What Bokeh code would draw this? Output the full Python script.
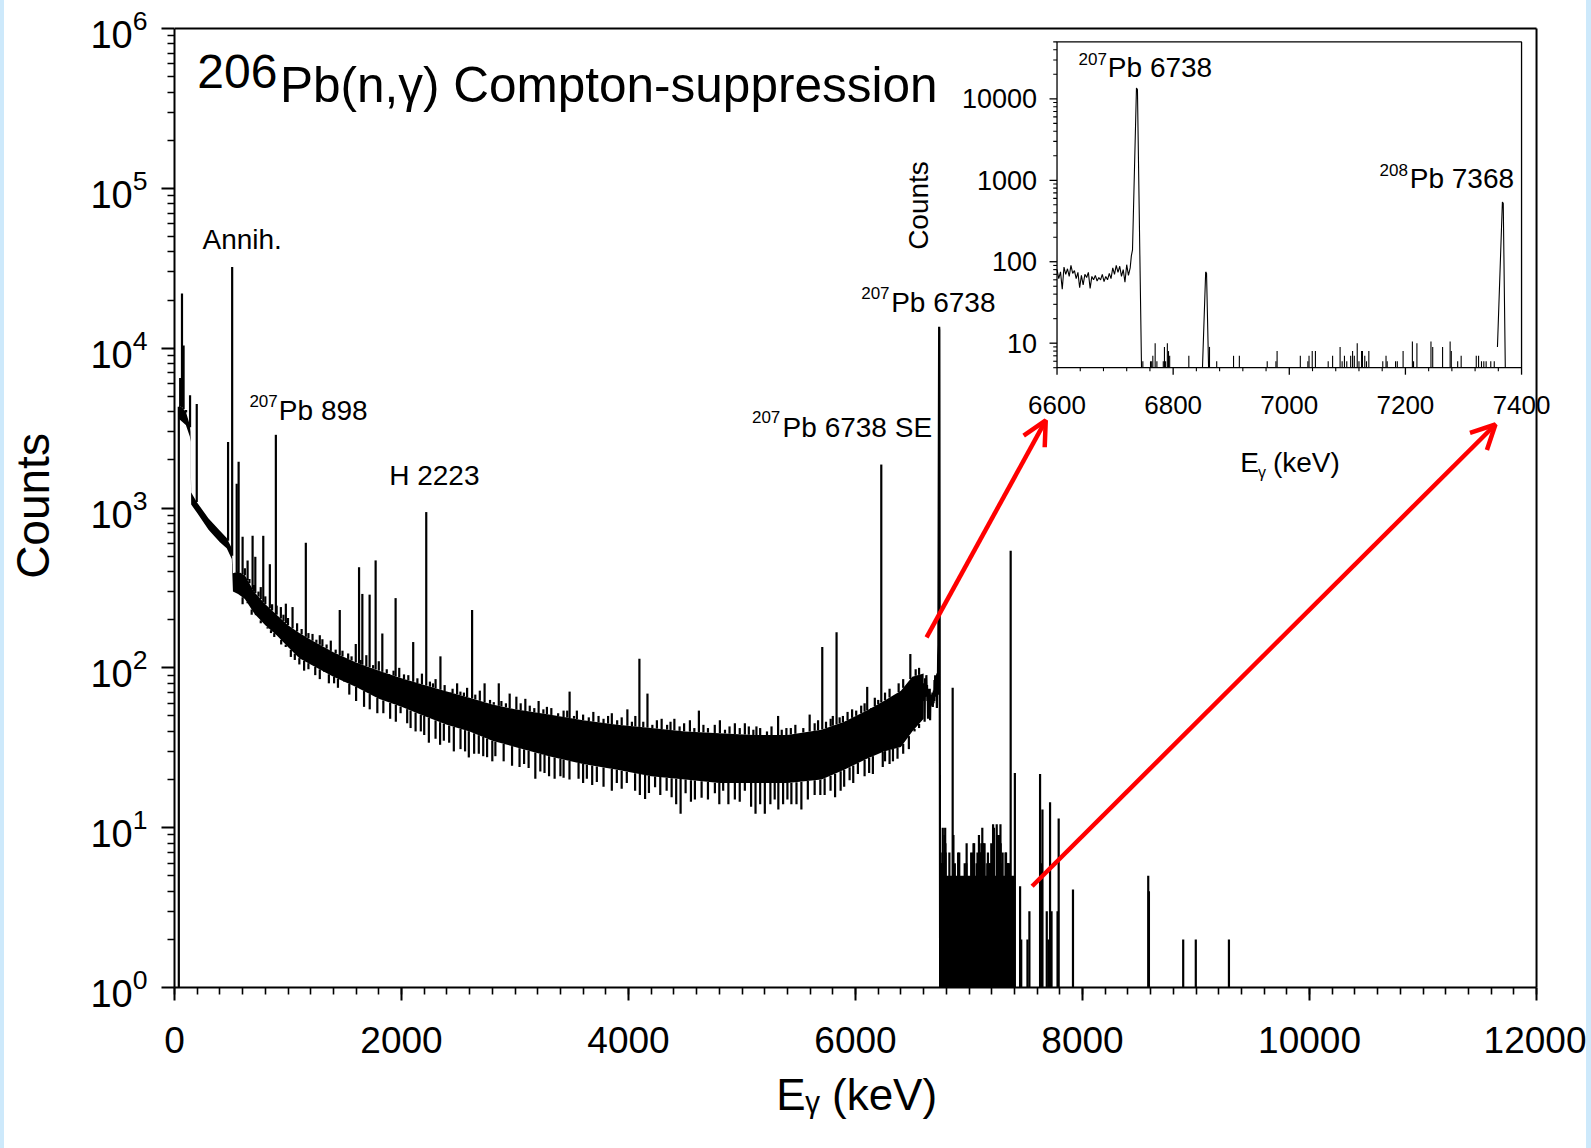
import numpy as np
from bokeh.plotting import figure
from bokeh.models import (Range1d, LogScale, FixedTicker, SingleIntervalTicker, Label, LabelSet,
                          ColumnDataSource, Arrow, OpenHead, Spacer)
from bokeh.layouts import row
from bokeh.core.properties import value
from bokeh.embed import file_html
from bokeh.resources import INLINE

# ------------------------------------------------------------------ data
# continuum band of the main spectrum (keV, upper / lower edge of the dense trace)
cont_e = [40, 60, 100, 135, 141, 147, 200, 300, 400, 460, 505, 515, 560, 620, 700, 800, 900, 1000,
          1100, 1200, 1400, 1600, 1800, 2000, 2200, 2400, 2600, 2800, 3000, 3300, 3600, 3900, 4200,
          4500, 4800, 5100, 5400, 5700, 5900, 6100, 6250, 6400, 6500, 6600]
cont_hi = [4400, 4300, 4000, 3300, 3000, 1250, 1080, 860, 720, 650, 560, 390, 400, 380, 300, 250, 215, 185,
           165, 150, 125, 108, 96, 86, 78, 71, 65, 59, 55, 51, 47, 44, 42,
           40, 39, 38, 38, 41, 46, 54, 62, 72, 88, 92]
cont_lo = [3600, 3500, 3300, 2800, 2600, 1050, 930, 730, 610, 560, 480, 300, 290, 270, 220, 185, 160, 135,
           115, 105, 88, 76, 64, 57, 50, 44, 40, 35, 32, 28, 25, 23, 21,
           20, 19, 19, 19, 20, 23, 27, 30, 32, 40, 48]

# low-energy edge of the spectrum
start_e = [38]
start_top = [4300]

# peaks above the continuum (keV, counts at top)
peak_e = [50, 66, 80, 102, 137, 196, 472, 508, 548, 565, 600, 644, 688, 712, 782, 840, 893, 937, 981, 1040,
          1157, 1216, 1303, 1377, 1456, 1530, 1597, 1626, 1655, 1719, 1772, 1831, 1890, 1948, 2022, 2103,
          2218, 2277, 2343, 2432, 2519, 2578, 2622, 2732, 2813, 2857, 2953, 3012, 3091, 3208, 3281, 3428,
          3481, 3545, 3736, 3853, 3990, 4096, 4167, 4292, 4404, 4541, 4620, 4805, 4937, 5025, 5127, 5318,
          5391, 5596, 5707, 5781, 5833, 5889, 6006, 6050, 6103, 6138, 6227, 6483]
peak_top = [6500, 22000, 10400, 4100, 5080, 4470, 2590, 32200, 1420, 1950, 660, 470, 670, 495, 670, 445, 2870,
            240, 252, 240, 606, 163, 151, 148, 230, 123, 141, 426, 290, 287, 470, 164, 87, 273, 91, 145,
            943, 80, 118, 68, 71, 75, 230, 80, 61, 80, 69, 66, 64, 62, 57, 54, 71, 54, 50, 52, 55, 114, 69,
            48, 48, 47, 54, 47, 45, 45, 43, 50, 42, 51, 135, 48, 167, 50, 54, 58, 76, 55, 1870, 122]

# small upward noise excursions of the trace (keV, counts)
noise_hi_e = [620, 660, 700, 740, 760, 800, 860, 900, 960, 1000, 1080, 1120, 1180, 1250, 1280, 1340, 1420,
              1480, 1560, 1640, 1690, 1750, 1800, 1870, 1930, 1980, 2060, 2140, 2180, 2250, 2300, 2380,
              2450, 2490, 2550, 2650, 2690, 2780, 2880, 2920, 3050, 3130, 3170, 3250, 3320, 3380, 3460,
              3520, 3600, 3650, 3690, 3780, 3820, 3900, 3940, 4030, 4060, 4130, 4210, 4250, 4340, 4370,
              4450, 4490, 4580, 4660, 4700, 4760, 4850, 4890, 4980, 5060, 5100, 5160, 5220, 5260, 5350,
              5430, 5470, 5540, 5640, 5670, 5740, 5800, 5860, 5930, 5970, 6080, 6170, 6200, 6260, 6300,
              6380, 6420, 6530, 6560]
noise_hi_c = [420, 360, 330, 300, 320, 280, 250, 245, 215, 205, 190, 175, 165, 150, 160, 140, 130,
              128, 118, 112, 120, 104, 110, 98, 96, 100, 90, 86, 92, 82, 85, 78,
              74, 80, 70, 68, 72, 63, 62, 60, 60, 58, 56, 55, 56, 52, 54,
              50, 51, 49, 53, 48, 50, 47, 49, 46, 50, 46, 44, 47, 44, 46,
              43, 45, 42, 44, 42, 44, 41, 43, 42, 43, 41, 42, 40, 43, 41,
              42, 44, 42, 45, 47, 46, 50, 49, 53, 55, 60, 65, 63, 70, 74,
              80, 85, 98, 100]

# downward noise dips below the continuum (keV, counts)
dip_e = [600, 644, 680, 717, 760, 820, 850, 879, 940, 980, 1025, 1060, 1100, 1142, 1180, 1240, 1280, 1318,
         1360, 1406, 1440, 1494, 1540, 1600, 1670, 1720, 1787, 1840, 1900, 1950, 1992, 2050, 2080, 2124,
         2170, 2200, 2241, 2300, 2340, 2373, 2420, 2461, 2520, 2560, 2593, 2640, 2681, 2720, 2754, 2800,
         2827, 2900, 2974, 3040, 3080, 3120, 3179, 3223, 3260, 3300, 3349, 3400, 3428, 3480, 3560, 3600,
         3633, 3680, 3721, 3780, 3853, 3897, 3940, 3985, 4058, 4100, 4146, 4180, 4234, 4280, 4336, 4380,
         4420, 4459, 4503, 4550, 4585, 4644, 4700, 4761, 4800, 4834, 4880, 4937, 4980, 5025, 5080, 5119,
         5160, 5201, 5250, 5288, 5320, 5362, 5400, 5435, 5480, 5523, 5580, 5640, 5690, 5728, 5780, 5820,
         5869, 5900, 5948, 5980, 6021, 6080, 6120, 6153, 6240, 6260, 6300, 6330, 6370, 6420, 6470, 6520,
         6560]
dip_bottom = [250, 258, 215, 229, 190, 176, 165, 156, 140, 135, 117, 112, 105, 96, 98, 90, 85, 106,
              80, 80, 75, 83, 68, 62, 57, 55, 52, 52, 48, 46, 52, 45, 42, 40,
              40, 38, 34, 36, 33, 35, 34, 30, 31, 30, 27.5, 29, 29, 28, 27.6, 26,
              28, 26, 24.4, 24, 25, 23.6, 20.2, 22.5, 22, 21, 20.2, 21, 20.5, 20, 20.2, 19,
              20.2, 18.5, 19.3, 18, 17, 19, 17.5, 19, 17, 16, 15.1, 16.5, 17.9, 16, 17, 15.5,
              14, 12.2, 16.4, 14.5, 15, 15.4, 15, 16.4, 14, 17, 14, 15, 14.5, 17, 13.5, 12.2,
              14, 12.2, 14, 15, 13, 14, 15, 14, 14, 13, 15, 16, 16, 16, 17, 15.5,
              17, 18, 19.8, 19, 21.7, 21, 22, 21.7, 24, 26, 25, 26, 27, 29, 31, 40,
              42]

# channel-level trace 6600-6746 keV incl. the 207Pb 6738 peak (0 = empty channel)
zoom_e = [6600, 6603, 6606, 6609, 6612, 6615, 6618, 6621, 6624, 6627, 6630, 6633, 6636, 6639, 6642,
          6645, 6648, 6651, 6654, 6657, 6660, 6663, 6666, 6669, 6672, 6675, 6678, 6681, 6684, 6687,
          6690, 6693, 6696, 6699, 6702, 6705, 6708, 6711, 6714, 6717, 6720, 6723, 6726, 6728, 6730,
          6736.8, 6738.5, 6745.5]
zoom_c = [80, 62, 75, 46, 86, 70, 82, 66, 90, 72, 78, 62, 74, 48, 68,
          52, 70, 64, 74, 47, 66, 60, 68, 58, 64, 60, 70, 57, 66, 60,
          72, 62, 84, 70, 90, 74, 88, 66, 80, 56, 92, 68, 84, 118, 140,
          13600, 13000, 0]

# 6855 keV and 208Pb 7368 keV peak shapes
p6855_e = [6850.5, 6856, 6857.5, 6861]
p6855_c = [0, 75, 72, 0]
p7368_e = [7358.5, 7367, 7368.5, 7372]
p7368_c = [9, 540, 520, 0]

# isolated channels with 6-10 counts between 6745 and 7360 keV
sparse_e = [6747.8, 6761, 6763, 6765, 6769, 6772, 6783, 6785, 6787, 6790, 6792, 6794, 6827, 6862.6, 6875,
            6904, 6914, 6962, 6977, 6979, 7019, 7032, 7034, 7039.5, 7045, 7067, 7074.6, 7087.5, 7091, 7095,
            7099, 7105.7, 7109, 7112, 7117, 7120, 7124.5, 7126, 7130, 7133, 7137, 7161, 7166.6, 7168.6,
            7183, 7186, 7196, 7212, 7214, 7219.8, 7244, 7247, 7264, 7277, 7279, 7290, 7296, 7322, 7326,
            7331, 7335, 7339, 7347, 7353]
sparse_c = [6, 6, 6, 7, 10, 6, 6, 9, 6, 10, 8, 7, 7, 9, 6,
            7, 7, 6, 6, 8, 7, 6, 7, 8, 8, 6, 7, 9, 6, 7,
            6, 7, 8, 7, 10, 6, 8, 8, 7, 6, 8, 6, 7, 6,
            6, 6, 8, 10.5, 6, 10, 10.5, 9, 9, 10.5, 8, 6, 7, 7, 7,
            6, 6, 6, 6, 6]

# dense low-count region (counts 1-5 per channel) above 6745 keV
block_e = [6746, 7405]
block_top = [5, 5]

# sparse channels above 7400 keV
tail_e = [7404, 7450, 7460, 7515, 7532, 7626, 7638, 7647, 7685, 7700, 7714, 7727, 7780, 7790, 7916,
          8579, 8585, 8887, 8998, 9290]
tail_c = [22, 4.3, 2, 2, 3, 21.7, 6, 13, 3, 2, 14.4, 3, 3, 11.4, 4.1,
          5, 4, 2, 2, 2]

# axis ticks
main_yticks = [1, 10, 100, 1000, 10000, 100000, 1000000]
ins_xticks = [6600, 6800, 7000, 7200, 7400]
ins_xlabels = ["6600", "6800", "7000", "7200", "7400"]
ins_yticks = [10, 100, 1000, 10000]
ins_ylabels = ["10", "100", "1000", "10000"]

# ------------------------------------------------------------------ layout
FONT = "Liberation Sans"
W, H = 1591, 1148
SP_L, SP_R = 4, 5
FIG_W = W - SP_L - SP_R
AX_L, AX_R, AX_T, AX_B = 172, 1536, 28, 987    # page px of x=0, x=12000, y=1e6, y=1
FL, FR, FT, FB = 172, 1556, 24, 987            # plot frame (slightly larger so edge texts are not cut)
IL, IR, IT, IB = 1055.8, 1521.0, 41.4, 367.2   # inset box (page px)
X0, X1, Y0, Y1 = 0, 12000, 1, 1e6
IX0, IX1, IY0, IY1 = 6600, 7400, 5, 50000

dec_px = (AX_B - AX_T) / (np.log10(Y1) - np.log10(Y0))


def mx(px):
    return X0 + (px - AX_L) / (AX_R - AX_L) * (X1 - X0)


def my(py):
    return 10 ** (np.log10(Y0) + (AX_B - py) / dec_px)


kx = (IX1 - IX0) / (IR - IL)
ky = (np.log10(IY1) - np.log10(IY0)) / (IB - IT)
ix_start = IX0 - (IL - FL) * kx
ix_end = IX1 + (FR - IR) * kx
iy_top = 10 ** (np.log10(IY1) + (IT - FT) * ky)
iy_bot = 10 ** (np.log10(IY0) - (FB - IB) * ky)

p = figure(width=FIG_W, height=H, x_range=Range1d(mx(FL), mx(FR)), y_range=Range1d(my(FB), my(FT)),
           y_axis_type="log", output_backend="svg", toolbar_location=None,
           min_border_left=FL - SP_L, min_border_right=SP_L + FIG_W - FR,
           min_border_top=FT, min_border_bottom=H - FB)
p.extra_x_ranges = {"ix": Range1d(ix_start, ix_end)}
p.extra_y_ranges = {"iy": Range1d(iy_bot, iy_top)}
p.extra_y_scales = {"iy": LogScale()}

p.xgrid.visible = False
p.ygrid.visible = False
p.background_fill_color = "white"
p.border_fill_color = "white"
p.outline_line_color = None

# main axes
xa = p.xaxis[0]
xa.ticker = SingleIntervalTicker(interval=2000, num_minor_ticks=10)
xa.bounds = (X0, X1)
ya = p.yaxis[0]
minor = [m * 10 ** k for k in range(6) for m in range(2, 10)]
ya.ticker = FixedTicker(ticks=main_yticks, minor_ticks=minor)
ya.bounds = (Y0, Y1)
for ax in (xa, ya):
    ax.axis_line_width = 2
    ax.axis_line_color = "black"
    ax.major_tick_line_width = 2
    ax.minor_tick_line_width = 1.6
    ax.major_tick_in = 0
    ax.minor_tick_in = 0
    ax.major_tick_out = 13
    ax.minor_tick_out = 7
    ax.major_label_text_font = FONT
    ax.major_label_text_color = "black"
xa.major_label_text_font_size = "37px"
xa.major_label_standoff = 26
xa.axis_label = "E\u1d67 (keV)\u2009\u2009"
xa.axis_label_text_font = FONT
xa.axis_label_text_font_size = "44px"
xa.axis_label_text_font_style = "normal"
xa.axis_label_text_color = "black"
xa.axis_label_standoff = 14
ya.major_label_text_font_size = "38px"
ya.major_label_standoff = 14
ya.axis_label = "Counts"
ya.axis_label_text_font = FONT
ya.axis_label_text_font_size = "46px"
ya.axis_label_text_font_style = "normal"
ya.axis_label_text_color = "black"
ya.axis_label_standoff = 28

# top and right borders of the main box
p.segment(x0=[X0, X1], y0=[Y1, Y0], x1=[X1, X1], y1=[Y1, Y1], line_color="black", line_width=2)

# ------------------------------------------------------------------ main spectrum
LW = 2.2
ce = np.array(cont_e, float)


def band_at(e, arr):
    return 10 ** np.interp(np.asarray(e, float), ce, np.log10(np.asarray(arr, float)))


p.varea(x=cont_e, y1=cont_lo, y2=cont_hi, fill_color="black")
p.segment(x0=start_e, y0=[Y0], x1=start_e, y1=start_top, line_color="black", line_width=LW)
up_e = peak_e + noise_hi_e
up_c = peak_top + noise_hi_c
p.segment(x0=up_e, y0=band_at(up_e, cont_hi), x1=up_e, y1=up_c, line_color="black", line_width=LW)
p.segment(x0=dip_e, y0=band_at(dip_e, cont_lo), x1=dip_e, y1=dip_bottom,
          line_color="black", line_width=LW)
p.line(x=zoom_e, y=np.maximum(np.array(zoom_c, float), Y0), line_color="black", line_width=LW)
p.varea(x=block_e, y1=[Y0, Y0], y2=block_top, fill_color="black")
hi_e = sparse_e + [p6855_e[int(np.argmax(p6855_c))], p7368_e[int(np.argmax(p7368_c))]] + tail_e
hi_c = sparse_c + [max(p6855_c), max(p7368_c)] + tail_c
p.segment(x0=hi_e, y0=[Y0] * len(hi_e), x1=hi_e, y1=hi_c, line_color="black", line_width=LW)

# ------------------------------------------------------------------ inset
R = dict(x_range_name="ix", y_range_name="iy")
p.quad(left=[IX0], right=[IX1], bottom=[IY0], top=[IY1], fill_color=None,
       line_color="black", line_width=1.3, **R)
ILW = 1.1
p.line(x=zoom_e, y=np.maximum(np.array(zoom_c, float), IY0), line_color="black", line_width=ILW, **R)
p.line(x=p6855_e, y=np.maximum(np.array(p6855_c, float), IY0), line_color="black", line_width=ILW, **R)
p.line(x=p7368_e, y=np.maximum(np.array(p7368_c, float), IY0), line_color="black", line_width=ILW, **R)
p.segment(x0=sparse_e, y0=[IY0] * len(sparse_e), x1=sparse_e, y1=sparse_c,
          line_color="black", line_width=ILW, **R)

ins_xminor = [v for v in range(IX0, IX1 + 1, 40) if v not in ins_xticks]
ins_yminor = [m * 10 ** k for k in range(0, 5) for m in range(2, 10)
              if IY0 <= m * 10 ** k <= IY1 and m * 10 ** k not in ins_yticks]
p.ray(x=ins_xticks, y=[IY0] * len(ins_xticks), length=7, angle=-np.pi / 2, length_units="screen",
      line_color="black", line_width=1.3, **R)
p.ray(x=ins_xminor, y=[IY0] * len(ins_xminor), length=3.5, angle=-np.pi / 2, length_units="screen",
      line_color="black", line_width=1.1, **R)
p.ray(x=[IX0] * len(ins_yticks), y=ins_yticks, length=7.5, angle=np.pi, length_units="screen",
      line_color="black", line_width=1.3, **R)
p.ray(x=[IX0] * len(ins_yminor), y=ins_yminor, length=3.8, angle=np.pi, length_units="screen",
      line_color="black", line_width=1.1, **R)

xl_src = ColumnDataSource(dict(x=ins_xticks, y=[IY0] * len(ins_xticks), text=ins_xlabels))
p.add_layout(LabelSet(x="x", y="y", text="text", source=xl_src, y_offset=-37,
                      text_align="center", text_baseline="middle", text_font=value(FONT),
                      text_font_size=value("26px"), text_color="black", **R))
yl_src = ColumnDataSource(dict(x=[IX0] * len(ins_yticks), y=ins_yticks, text=ins_ylabels))
p.add_layout(LabelSet(x="x", y="y", text="text", source=yl_src, x_offset=-20,
                      text_align="right", text_baseline="middle", text_font=value(FONT),
                      text_font_size=value("27px"), text_color="black", **R))


# ------------------------------------------------------------------ texts
def lab(px, py, text, size, align="left", angle=0.0, baseline_given=True):
    # py is the text baseline; the label is anchored at the middle of the capitals
    yc = py - 0.36 * size if baseline_given else py
    p.add_layout(Label(x=mx(px), y=my(yc), text=text, text_font=FONT, text_font_size=f"{size}px",
                       text_align=align, text_baseline="middle", angle=angle, text_color="black"))


lab(194.8, 88.3, "206", 48)
lab(277.6, 101.7, "Pb(n,\u03b3) Compton-suppression", 49.5)
lab(200, 249.5, "Annih.", 28)
lab(247, 407, "207", 17)
lab(276.5, 420, "Pb 898", 28)
lab(387, 485, "H 2223", 28)
lab(750.3, 423, "207", 17)
lab(781, 436.7, "Pb 6738 SE", 28)
lab(859.7, 298.5, "207", 17)
lab(889.7, 311.7, "Pb 6738", 28)
lab(1077.3, 64.5, "207", 17)
lab(1106.7, 77.5, "Pb 6738", 28)
lab(1378.8, 175.3, "208", 17)
lab(1409, 188.3, "Pb 7368", 28)
lab(1239.4, 471.7, "E", 28)
lab(1257, 478, "\u03b3", 16)
lab(1272, 471.7, "(keV)", 28)
lab(917.4, 205, "Counts", 28, align="center", angle=np.pi / 2, baseline_given=False)

# red zoom arrows
for (xs, ys, xe, ye) in [(6626, 155, 7676, 3530), (7556, 4.3, 11638, 3330)]:
    p.add_layout(Arrow(end=OpenHead(size=24, line_color="red", line_width=4.5),
                       x_start=xs, y_start=ys, x_end=xe, y_end=ye,
                       line_color="red", line_width=4.5))

stripe = {"background-color": "#cde9fb"}
layout = row(Spacer(width=SP_L, height=H, styles=stripe), p, Spacer(width=SP_R, height=H, styles=stripe))

open("out.html", "w").write(file_html(layout, INLINE))
